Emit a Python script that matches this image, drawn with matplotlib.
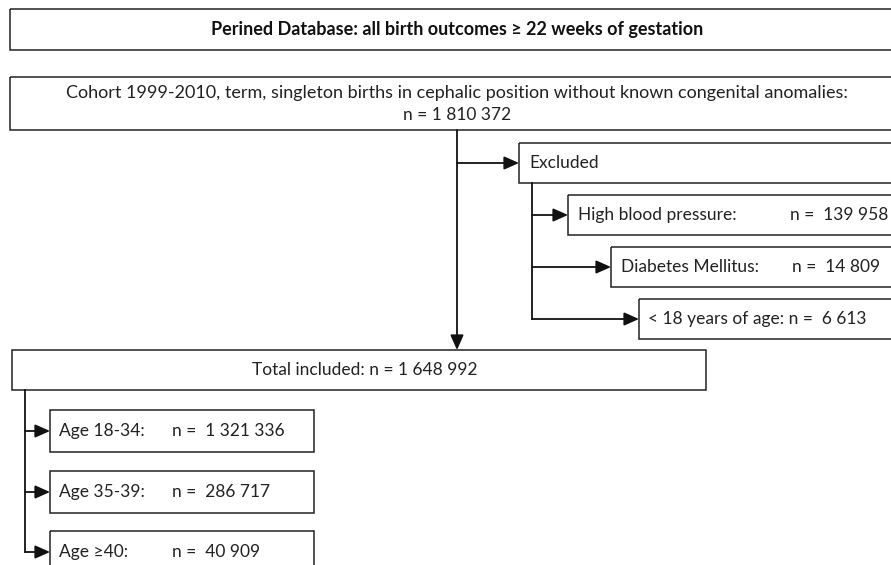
import matplotlib.pyplot as plt
from matplotlib.patches import Rectangle

plt.rcParams['font.family'] = ['Lato', 'DejaVu Sans']

# flowchart content
title = "Perined Database: all birth outcomes \u2265 22 weeks of gestation"
cohort_text = "Cohort 1999-2010, term, singleton births in cephalic position without known congenital anomalies:"
cohort_n = 1810372
excl_labels = ["High blood pressure:", "Diabetes Mellitus:", "< 18 years of age:"]
excl_n = [139958, 14809, 6613]
included_n = 1648992
age_labels = ["Age 18-34:", "Age 35-39:", "Age \u226540:"]
age_n = [1321336, 286717, 40909]


def fmt(n):
    return "{:,}".format(n).replace(",", " ")


def box(ax, x0, y0, x1, y1):
    ax.add_patch(Rectangle((x0, y0), x1 - x0, y1 - y0, fill=False,
                           edgecolor='#222222', linewidth=1.1))


def arrow(ax, x0, y0, x1, y1):
    ax.annotate("", xy=(x1, y1), xytext=(x0, y0),
                arrowprops=dict(arrowstyle='-|>,head_length=0.9,head_width=0.4',
                                color='#111111', lw=1.3, shrinkA=0, shrinkB=0))


fig = plt.figure(figsize=(8.91, 5.65), dpi=100)
ax = fig.add_axes([0, 0, 1, 1])
ax.set_xlim(0, 891)
ax.set_ylim(565, 0)
ax.axis('off')

fs = 12.5
tc = '#222222'

# top boxes
box(ax, 10, 9, 900, 50)
ax.text(457, 30, title, ha='center', va='center', fontsize=13, fontweight='bold', color='#111111')
box(ax, 10, 77, 900, 130)
ax.text(457, 93, cohort_text, ha='center', va='center', fontsize=13, color=tc)
ax.text(457, 115, "n = " + fmt(cohort_n), ha='center', va='center', fontsize=fs, color=tc)

# main down arrow
arrow(ax, 457, 130, 457, 350)
arrow(ax, 457, 163, 519, 163)

# excluded
box(ax, 519, 143, 900, 183)
ax.text(529, 163, "Excluded", ha='left', va='center', fontsize=fs, color=tc)
ax.plot([532, 532], [183, 319], color='#111111', lw=1.3)
excl_left = [568, 611, 639]
excl_mid = [215, 267, 319]
n_x = [790, 792]
for i in range(len(excl_labels)):
    arrow(ax, 532, excl_mid[i], excl_left[i], excl_mid[i])
    box(ax, excl_left[i], excl_mid[i] - 20, 900, excl_mid[i] + 20)
    if i < 2:
        ax.text(excl_left[i] + 10, excl_mid[i], excl_labels[i], ha='left', va='center',
                fontsize=fs, color=tc)
        ax.text(n_x[i], excl_mid[i], "n =  " + fmt(excl_n[i]), ha='left', va='center',
                fontsize=fs, color=tc)
    else:
        ax.text(excl_left[i] + 9, excl_mid[i], excl_labels[i] + " n =  " + fmt(excl_n[i]),
                ha='left', va='center', fontsize=fs, color=tc)

# total included
box(ax, 12, 350, 706, 390)
ax.text(365, 370, "Total included: n = " + fmt(included_n), ha='center', va='center',
        fontsize=fs, color=tc)
ax.plot([25, 25], [390, 552], color='#111111', lw=1.3)
age_mid = [431, 492, 552]
for i in range(len(age_labels)):
    arrow(ax, 25, age_mid[i], 50, age_mid[i])
    box(ax, 50, age_mid[i] - 21, 314, age_mid[i] + 21)
    ax.text(59, age_mid[i], age_labels[i], ha='left', va='center', fontsize=fs, color=tc)
    ax.text(172, age_mid[i], "n =  " + fmt(age_n[i]), ha='left', va='center',
            fontsize=fs, color=tc)

fig.savefig("out.png", dpi=100)
